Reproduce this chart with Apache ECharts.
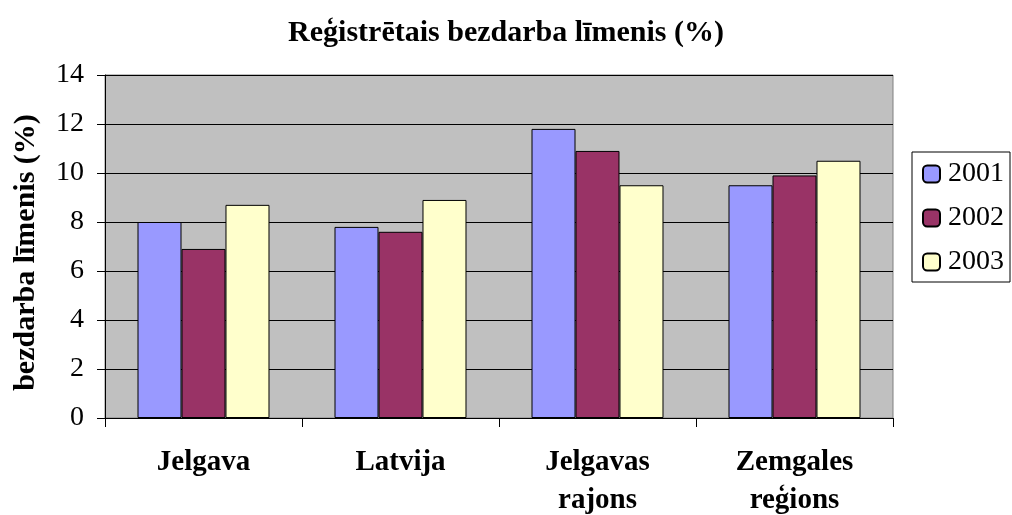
<!DOCTYPE html>
<html><head><meta charset="utf-8">
<script src="https://cdn.jsdelivr.net/npm/echarts@6/dist/echarts.min.js"></script>
<style>html,body{margin:0;padding:0;background:#fff}#c{width:1012px;height:515px}</style>
</head><body><div id="c"></div>
<script>
const categories = ['Jelgava', 'Latvija', 'Jelgavas\nrajons', 'Zemgales\nreģions'];
const years = ['2001', '2002', '2003'];
const values2001 = [8.0, 7.8, 11.8, 9.5];
const values2002 = [6.9, 7.6, 10.9, 9.9];
const values2003 = [8.7, 8.9, 9.5, 10.5];
const colors = ['#9999FF', '#993366', '#FFFFCC'];
const serif = '"Liberation Serif", "Times New Roman", serif';
const chart = echarts.init(document.getElementById('c'), null, {renderer: 'canvas'});
const seriesData = [values2001, values2002, values2003];
chart.setOption({
  animation: false,
  title: {text: 'Reģistrētais bezdarba līmenis (%)', left: 'center', top: 13,
    textStyle: {fontFamily: serif, fontWeight: 'bold', fontSize: 30, color: '#000'}},
  legend: {orient: 'vertical', left: 912, top: 152, data: years,
    backgroundColor: '#fff', borderColor: '#000', borderWidth: 1,
    padding: [8, 6, 6, 10], itemWidth: 17, itemHeight: 17, itemGap: 16,
    textStyle: {fontFamily: serif, fontSize: 28, color: '#000', padding: [0, 0, 0, 3]}},
  grid: {left: 105, right: 119, top: 75, bottom: 97, show: true, containLabel: false,
    outerBoundsMode: 'none',
    backgroundColor: '#C0C0C0', borderColor: '#808080', borderWidth: 1},
  xAxis: {type: 'category', data: categories,
    axisLine: {show: true, lineStyle: {color: '#000', width: 1}},
    axisTick: {show: true, length: 9, lineStyle: {color: '#000'}},
    axisLabel: {fontFamily: serif, fontWeight: 'bold', fontSize: 29, color: '#000', margin: 26, lineHeight: 38}},
  yAxis: {type: 'value', min: 0, max: 14, interval: 2,
    name: 'bezdarba līmenis (%)', nameLocation: 'middle', nameGap: 64, nameRotate: 90,
    nameTextStyle: {fontFamily: serif, fontWeight: 'bold', fontSize: 30, color: '#000', padding: [0, 12, 0, 0]},
    axisLine: {show: true, lineStyle: {color: '#000', width: 1}},
    axisTick: {show: true, length: 8, lineStyle: {color: '#000'}},
    axisLabel: {fontFamily: serif, fontSize: 28, color: '#000', margin: 21},
    splitLine: {show: true, lineStyle: {color: '#000', width: 1}}},
  series: years.map((y, i) => ({
    name: y, type: 'bar', data: seriesData[i], barGap: '0%', barCategoryGap: '33%',
    itemStyle: {color: colors[i], borderColor: '#000', borderWidth: 1}
  }))
});
</script></body></html>
